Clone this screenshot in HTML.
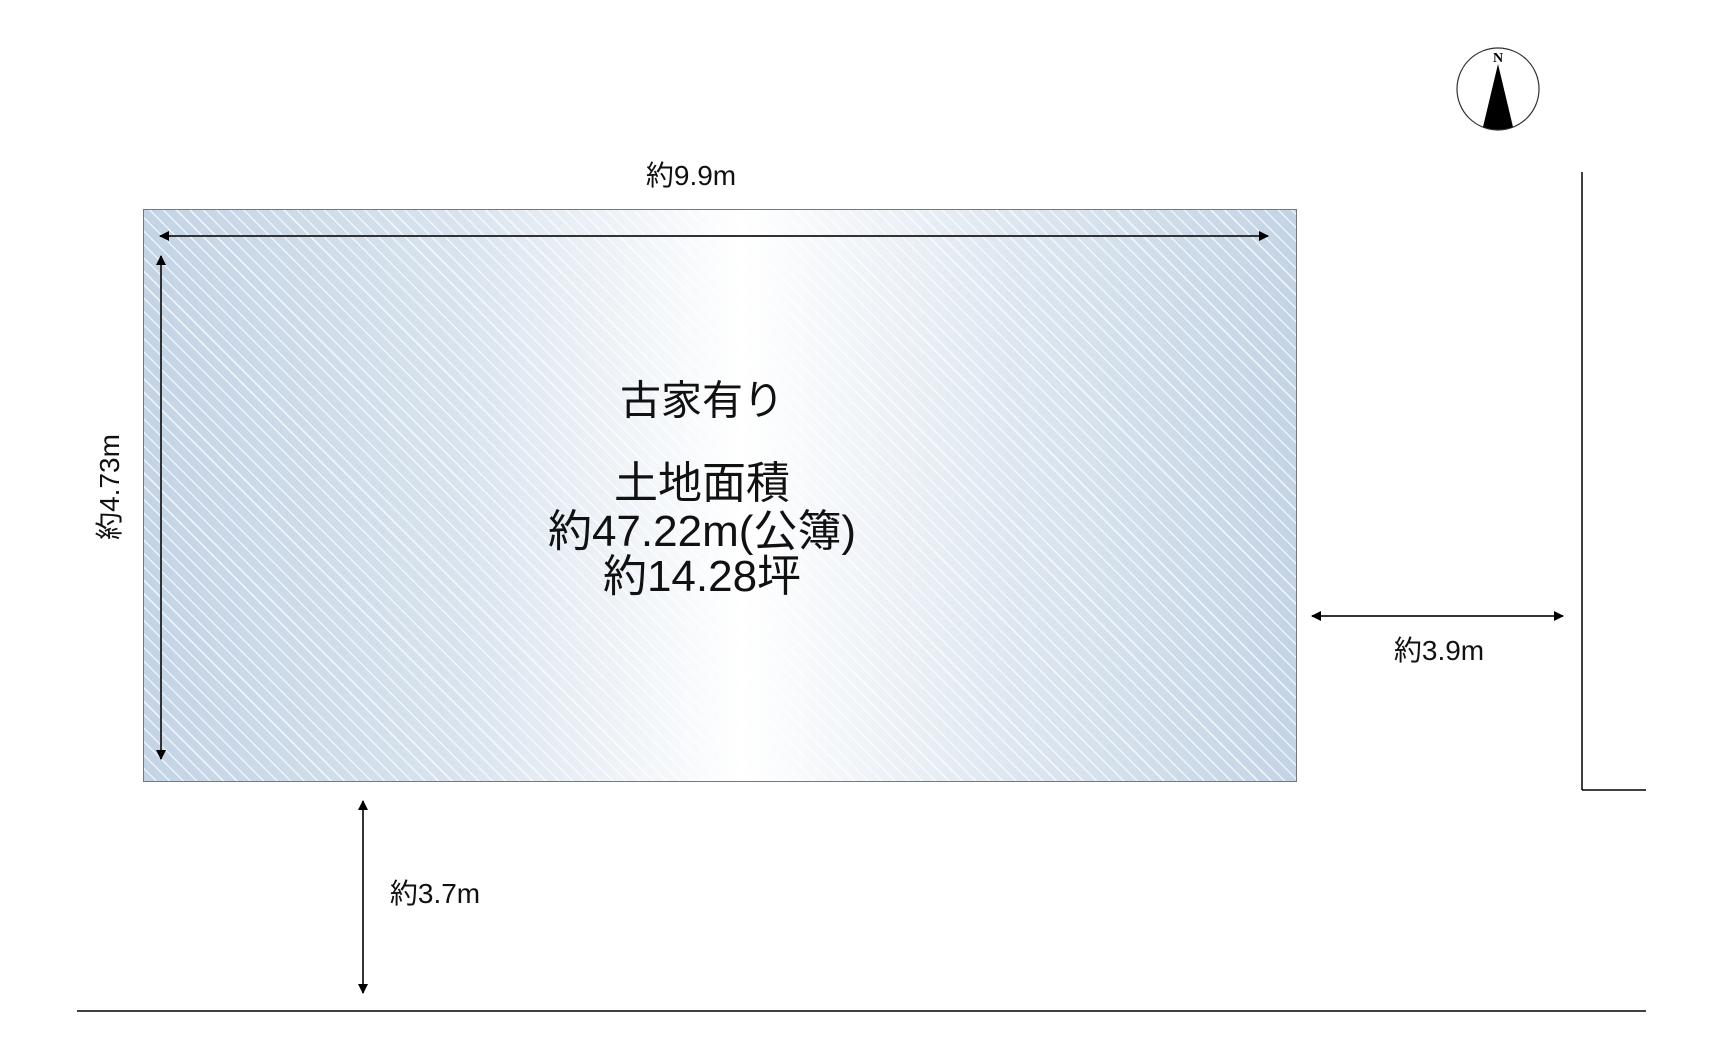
<!DOCTYPE html>
<html><head><meta charset="utf-8"><style>
body{margin:0;width:1725px;height:1060px;background:#fff;position:relative;overflow:hidden;font-family:"Liberation Sans","Noto Sans CJK JP",sans-serif;color:#111}
.rect{position:absolute;left:143px;top:209px;width:1152px;height:571px;border:1px solid #777;
background:repeating-linear-gradient(45deg,rgba(255,255,255,0) 0,rgba(255,255,255,0) 8px,rgba(255,255,255,.7) 8px,rgba(255,255,255,.7) 9.5px),
linear-gradient(90deg,#c3d4e5 0%,#d8e3ee 27%,#ffffff 52%,#dfe8f1 74%,#c3d4e5 100%)}
.t{position:absolute;white-space:nowrap;transform:translate(-50%,-50%);line-height:1}
</style></head><body>
<div class="rect"></div>
<svg width="1725" height="1060" style="position:absolute;left:0;top:0">
<defs><marker id="a" markerWidth="10" markerHeight="10" refX="9" refY="5" orient="auto-start-reverse" markerUnits="userSpaceOnUse"><path d="M0,0 L10,5 L0,10 z" fill="#000"/></marker></defs>
<g stroke="#333" stroke-width="2" fill="none">
<line x1="160" y1="236" x2="1268" y2="236" marker-start="url(#a)" marker-end="url(#a)"/>
<line x1="161" y1="256" x2="161" y2="759" marker-start="url(#a)" marker-end="url(#a)"/>
<line x1="1312" y1="616" x2="1563" y2="616" marker-start="url(#a)" marker-end="url(#a)"/>
<line x1="363" y1="801" x2="363" y2="993" marker-start="url(#a)" marker-end="url(#a)"/>
</g>
<g stroke="#000" stroke-width="1.5">
<line x1="1582" y1="172" x2="1582" y2="790"/>
<line x1="1582" y1="790" x2="1646" y2="790"/>
<line x1="77" y1="1011" x2="1646" y2="1011"/>
</g>
<circle cx="1498" cy="89" r="41" fill="#fff" stroke="#333" stroke-width="1.2"/>
<path d="M1498,64 L1483,127 Q1498,132 1513,127 Z" fill="#000"/>
<text x="1498" y="62" font-family="Liberation Serif" font-weight="bold" font-size="14" text-anchor="middle">N</text>
</svg>
<div class="t" style="left:691px;top:176px;font-size:28px">約9.9m</div>
<div class="t" style="left:110px;top:487px;font-size:28px;transform:translate(-50%,-50%) rotate(-90deg)">約4.73m</div>
<div class="t" style="left:702px;top:401px;font-size:41px">古家有り</div>
<div class="t" style="left:702px;top:484px;font-size:44px">土地面積</div>
<div class="t" style="left:702px;top:532px;font-size:44px">約47.22m(公簿)</div>
<div class="t" style="left:702px;top:577px;font-size:44px">約14.28坪</div>
<div class="t" style="left:1439px;top:651px;font-size:28px">約3.9m</div>
<div class="t" style="left:435px;top:894px;font-size:28px">約3.7m</div>
</body></html>
